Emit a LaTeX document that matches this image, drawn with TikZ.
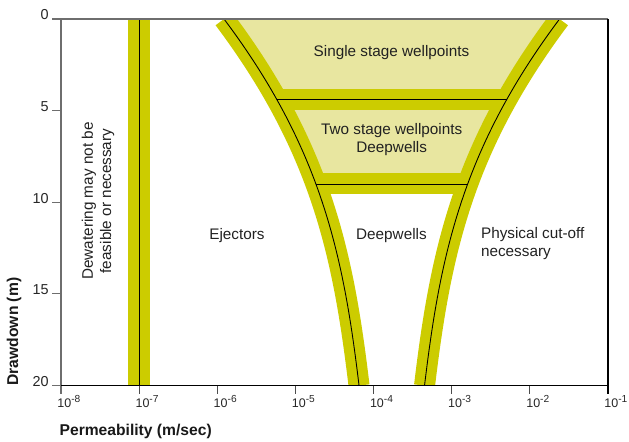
\documentclass[tikz,border=0pt]{standalone}
\usepackage{fontspec}
\setmainfont{Liberation Sans}
\definecolor{bandyellow}{RGB}{204,204,0}
\definecolor{lightyellow}{RGB}{232,230,160}
\definecolor{axisgrey}{RGB}{110,110,110}
\newcommand{\decade}[1]{10\raisebox{0.4em}{\fontsize{5.8}{6}\selectfont #1}}

\begin{document}
\begin{tikzpicture}[x=1.5628cm,y=-0.3666cm,
    yband/.style={draw=bandyellow,line width=0.42cm},
    kline/.style={draw=black,line width=0.5pt},
    zonelbl/.style={font=\fontsize{8.7}{10.4}\selectfont,text=black!87,inner sep=0pt,align=center},
    ticklbl/.style={font=\fontsize{7.1}{8}\selectfont,text=black!85,inner sep=0pt},
    axislbl/.style={font=\fontsize{8.9}{10.4}\selectfont\bfseries,text=black!90,inner sep=0pt}]
      \useasboundingbox (-0.7806,-1.0366) rectangle (7.2687,23.0224);
      % funnel end points
      \coordinate (lt) at (2.086,0);
      \coordinate (lb) at (3.814,20);
      \coordinate (rt) at (6.380,0);
      \coordinate (rb) at (4.652,20);
      % wellpoint zones
      \begin{scope}
        \clip (0,0) rectangle (7,9);
        \fill[lightyellow] (lt) .. controls (3.334,7.092) and (3.614,12.875) .. (lb)
          -- (rb) .. controls (4.852,12.875) and (5.132,7.092) .. (rt) -- cycle;
      \end{scope}
      \begin{scope}
        \clip (0,0) rectangle (7,20);
        \draw[yband] (lt) .. controls (3.334,7.092) and (3.614,12.875) .. (lb);
        \draw[yband] (rt) .. controls (5.132,7.092) and (4.852,12.875) .. (rb);
        \draw[yband,line width=0.44cm] (1,0) -- (1,20);
        \draw[yband] (2.764,4.4) -- (5.701,4.4);
        \draw[yband] (3.263,9) -- (5.202,9);
        \draw[kline] (lt) .. controls (3.334,7.092) and (3.614,12.875) .. (lb);
        \draw[kline] (rt) .. controls (5.132,7.092) and (4.852,12.875) .. (rb);
        \draw[kline] (1,0) -- (1,20);
        \draw[kline] (2.764,4.4) -- (5.701,4.4);
        \draw[kline] (3.263,9) -- (5.202,9);
      \end{scope}
      % axes
      \draw[axisgrey,line width=0.6pt] (-0.115,0) -- (7,0);
      \draw[axisgrey,line width=0.6pt] (0,0) -- (0,20.436);
      \draw[line width=0.6pt] (0,20) -- (7,20);
      \draw[line width=0.6pt] (7,0) -- (7,20.436);
      \foreach \m in {5,10,15,20}
        \draw[axisgrey,line width=0.6pt] (-0.115,\m) -- (0,\m);
      \foreach \i in {1,...,6}
        \draw[black!70,line width=0.6pt] (\i,20) -- (\i,20.436);
      \foreach \m in {0,5,10,15,20}
        \node[ticklbl,font=\fontsize{8.2}{9}\selectfont,anchor=base east] at (-0.154,\m+0.05) {\m};
      \foreach \i in {0,...,7} {
        \pgfmathtruncatemacro\ex{\i-8}
        \node[ticklbl,anchor=base west] at (\i-0.05,21.2) {\decade{\ex}};
      }
      \node[axislbl,anchor=west] (kaxis) at (-0.022,22.515) {Permeability (m/sec)};
      \node[axislbl,rotate=90] (saxis) at (-0.6015,17.05) {Drawdown (m)};
      % zone labels
      \node[zonelbl] (single) at (4.229,1.838) {Single stage wellpoints};
      \node[zonelbl] (twostage) at (4.232,6.574) {Two stage wellpoints\\Deepwells};
      \node[zonelbl] (ejectors) at (2.252,11.84) {Ejectors};
      \node[zonelbl] (deepwells) at (4.229,11.84) {Deepwells};
      \node[zonelbl,anchor=west,align=left] (cutoff) at (5.371,12.26) {Physical cut-off\\necessary};
      \node[zonelbl,rotate=90] (nodewater) at (0.4735,9.93) {Dewatering may not be\\feasible or necessary};
    \end{tikzpicture}
\end{document}
